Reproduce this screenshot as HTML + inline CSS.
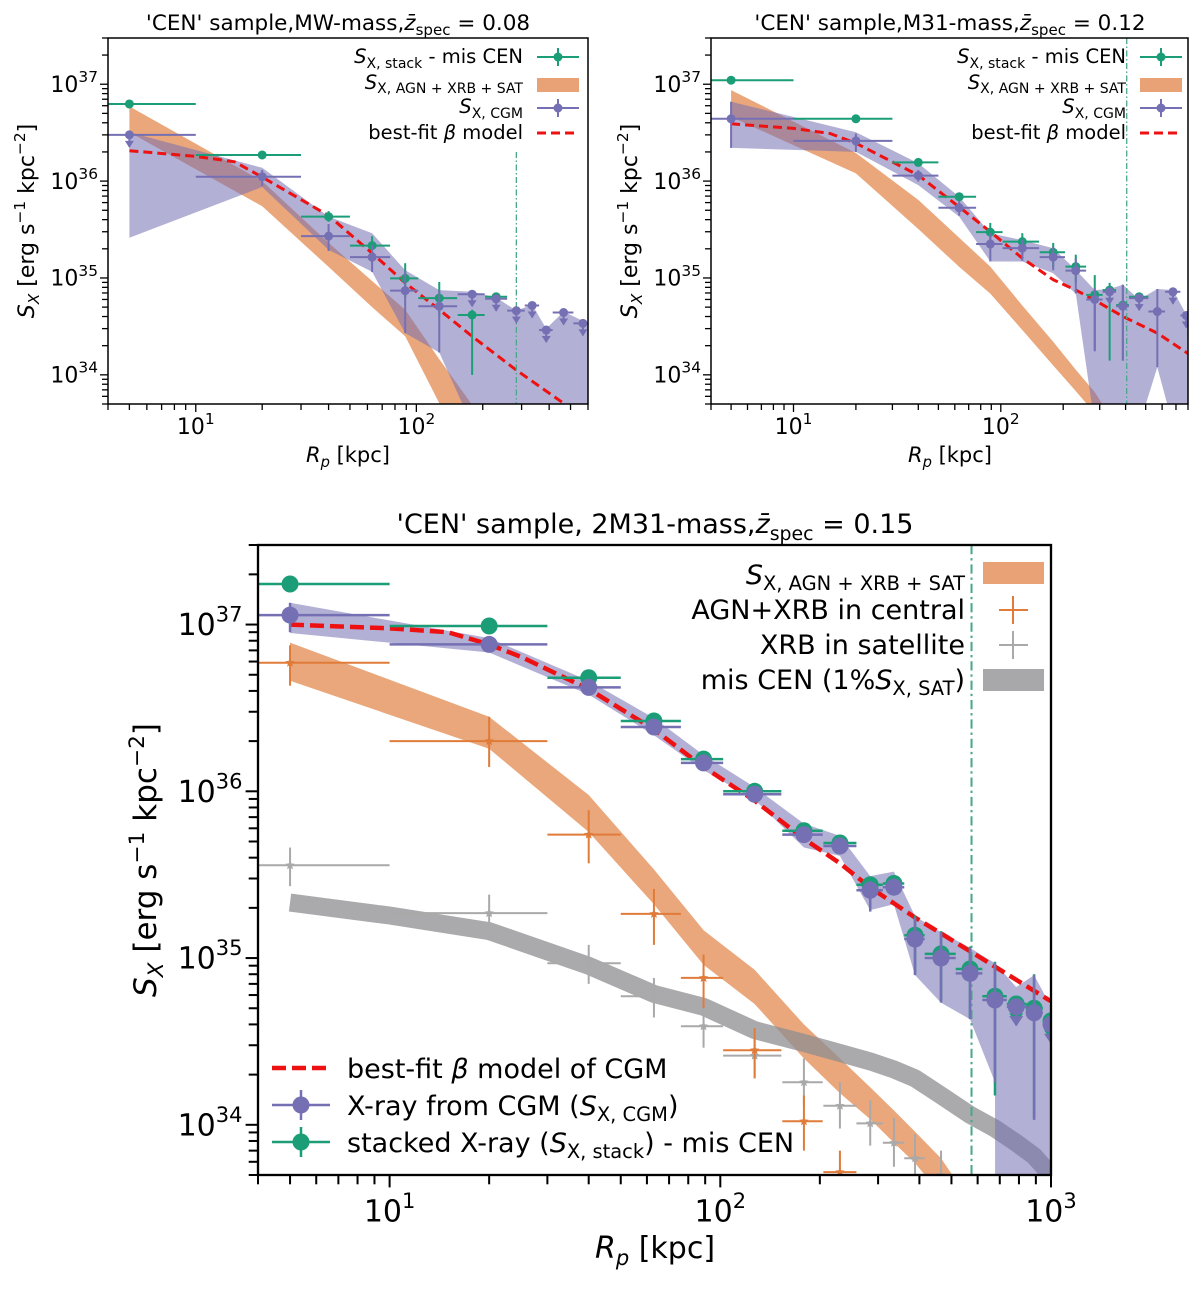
<!DOCTYPE html>
<html><head><meta charset="utf-8">
<style>
html,body{margin:0;padding:0;background:#fff;}
svg{display:block;font-family:"DejaVu Sans","Liberation Sans",sans-serif;}
</style></head>
<body>
<svg id="fig" xmlns="http://www.w3.org/2000/svg" width="1200" height="1296" viewBox="0 0 1200 1296">
<rect x="0" y="0" width="1200" height="1296" fill="#fff"/>
<defs>
<clipPath id="clip-mw"><rect x="108" y="38" width="480" height="366"/></clipPath>
<clipPath id="clip-m31"><rect x="711" y="38" width="477" height="366"/></clipPath>
<clipPath id="clip-m2"><rect x="258" y="545" width="793" height="630"/></clipPath>
</defs>

<!-- titles -->
<text x="338" y="30" font-size="21.5" text-anchor="middle">'CEN' sample,MW-mass,<tspan font-style="italic">z̄</tspan><tspan font-size="70%" dy="5">spec</tspan><tspan dy="-5"> = 0.08</tspan></text>
<text x="950" y="30" font-size="21.5" text-anchor="middle">'CEN' sample,M31-mass,<tspan font-style="italic">z̄</tspan><tspan font-size="70%" dy="5">spec</tspan><tspan dy="-5"> = 0.12</tspan></text>
<text x="655" y="533" font-size="27" text-anchor="middle">'CEN' sample, 2M31-mass,<tspan font-style="italic">z̄</tspan><tspan font-size="70%" dy="7">spec</tspan><tspan dy="-7"> = 0.15</tspan></text>

<!-- axis labels -->
<text x="348" y="462" font-size="21" text-anchor="middle"><tspan font-style="italic">R</tspan><tspan font-size="70%" dy="5" font-style="italic">p</tspan><tspan dy="-5"> [kpc]</tspan></text>
<text x="950" y="462" font-size="21" text-anchor="middle"><tspan font-style="italic">R</tspan><tspan font-size="70%" dy="5" font-style="italic">p</tspan><tspan dy="-5"> [kpc]</tspan></text>
<text x="655" y="1258" font-size="30" text-anchor="middle"><tspan font-style="italic">R</tspan><tspan font-size="70%" dy="7" font-style="italic">p</tspan><tspan dy="-7"> [kpc]</tspan></text>
<text transform="translate(34,221) rotate(-90)" font-size="22" text-anchor="middle"><tspan font-style="italic">S</tspan><tspan font-size="70%" dy="5" font-style="italic">X</tspan><tspan dy="-5"> [erg s</tspan><tspan font-size="70%" dy="-9">−1</tspan><tspan dy="9"> kpc</tspan><tspan font-size="70%" dy="-9">−2</tspan><tspan dy="9">]</tspan></text>
<text transform="translate(637,221) rotate(-90)" font-size="22" text-anchor="middle"><tspan font-style="italic">S</tspan><tspan font-size="70%" dy="5" font-style="italic">X</tspan><tspan dy="-5"> [erg s</tspan><tspan font-size="70%" dy="-9">−1</tspan><tspan dy="9"> kpc</tspan><tspan font-size="70%" dy="-9">−2</tspan><tspan dy="9">]</tspan></text>
<text transform="translate(156,860) rotate(-90)" font-size="31" text-anchor="middle"><tspan font-style="italic">S</tspan><tspan font-size="70%" dy="7" font-style="italic">X</tspan><tspan dy="-7"> [erg s</tspan><tspan font-size="70%" dy="-12">−1</tspan><tspan dy="12"> kpc</tspan><tspan font-size="70%" dy="-12">−2</tspan><tspan dy="12">]</tspan></text>

<g id="plots"></g>

<!-- legend MW -->
<g font-size="19.5">
<text x="523" y="63" text-anchor="end"><tspan font-style="italic">S</tspan><tspan font-size="72%" dy="5">X, stack</tspan><tspan dy="-5"> - mis CEN</tspan></text>
<line x1="537" y1="57" x2="579" y2="57" stroke="#1b9e77" stroke-width="2"/>
<line x1="558" y1="48" x2="558" y2="66" stroke="#1b9e77" stroke-width="2"/>
<circle cx="558" cy="57" r="4.5" fill="#1b9e77"/>
<text x="523" y="89" text-anchor="end"><tspan font-style="italic">S</tspan><tspan font-size="72%" dy="4">X, AGN + XRB + SAT</tspan></text>
<rect x="537" y="78" width="42" height="14" fill="#e9a276"/>
<text x="523" y="113" text-anchor="end"><tspan font-style="italic">S</tspan><tspan font-size="72%" dy="5">X, CGM</tspan></text>
<line x1="537" y1="108" x2="579" y2="108" stroke="#7570b3" stroke-width="2"/>
<line x1="558" y1="99" x2="558" y2="117" stroke="#7570b3" stroke-width="2"/>
<circle cx="558" cy="108" r="4.5" fill="#7570b3"/>
<text x="523" y="139" text-anchor="end">best-fit <tspan font-style="italic">β</tspan> model</text>
<line x1="537" y1="133" x2="579" y2="133" stroke="#ee1111" stroke-width="3" stroke-dasharray="9,5"/>
</g>
<!-- legend M31 -->
<g font-size="19.5">
<text x="1126" y="63" text-anchor="end"><tspan font-style="italic">S</tspan><tspan font-size="72%" dy="5">X, stack</tspan><tspan dy="-5"> - mis CEN</tspan></text>
<line x1="1140" y1="57" x2="1182" y2="57" stroke="#1b9e77" stroke-width="2"/>
<line x1="1161" y1="48" x2="1161" y2="66" stroke="#1b9e77" stroke-width="2"/>
<circle cx="1161" cy="57" r="4.5" fill="#1b9e77"/>
<text x="1126" y="89" text-anchor="end"><tspan font-style="italic">S</tspan><tspan font-size="72%" dy="4">X, AGN + XRB + SAT</tspan></text>
<rect x="1140" y="78" width="42" height="14" fill="#e9a276"/>
<text x="1126" y="113" text-anchor="end"><tspan font-style="italic">S</tspan><tspan font-size="72%" dy="5">X, CGM</tspan></text>
<line x1="1140" y1="108" x2="1182" y2="108" stroke="#7570b3" stroke-width="2"/>
<line x1="1161" y1="99" x2="1161" y2="117" stroke="#7570b3" stroke-width="2"/>
<circle cx="1161" cy="108" r="4.5" fill="#7570b3"/>
<text x="1126" y="139" text-anchor="end">best-fit <tspan font-style="italic">β</tspan> model</text>
<line x1="1140" y1="133" x2="1182" y2="133" stroke="#ee1111" stroke-width="3" stroke-dasharray="9,5"/>
</g>
<!-- legend 2M31 upper right -->
<g font-size="27">
<text x="965" y="584" text-anchor="end"><tspan font-style="italic">S</tspan><tspan font-size="72%" dy="6">X, AGN + XRB + SAT</tspan></text>
<rect x="983" y="562" width="61" height="22" fill="#e9a276"/>
<text x="965" y="619" text-anchor="end">AGN+XRB in central</text>
<line x1="999" y1="610" x2="1028" y2="610" stroke="#e07b39" stroke-width="2"/>
<line x1="1013" y1="596" x2="1013" y2="624" stroke="#e07b39" stroke-width="2"/>
<text x="965" y="654" text-anchor="end">XRB in satellite</text>
<line x1="999" y1="645" x2="1028" y2="645" stroke="#a9a9a9" stroke-width="2"/>
<line x1="1013" y1="631" x2="1013" y2="659" stroke="#a9a9a9" stroke-width="2"/>
<text x="965" y="689" text-anchor="end">mis CEN (1%<tspan font-style="italic">S</tspan><tspan font-size="72%" dy="6">X, SAT</tspan><tspan dy="-6">)</tspan></text>
<rect x="983" y="669" width="61" height="22" fill="#a8a8ab"/>
</g>
<!-- legend 2M31 lower left -->
<g font-size="27">
<line x1="272" y1="1068" x2="330" y2="1068" stroke="#ee1111" stroke-width="4.5" stroke-dasharray="14,6"/>
<text x="347" y="1078">best-fit <tspan font-style="italic">β</tspan> model of CGM</text>
<line x1="272" y1="1105" x2="330" y2="1105" stroke="#7570b3" stroke-width="2.5"/>
<line x1="301" y1="1090" x2="301" y2="1120" stroke="#7570b3" stroke-width="2.5"/>
<circle cx="301" cy="1105" r="8.5" fill="#7570b3"/>
<text x="347" y="1115">X-ray from CGM (<tspan font-style="italic">S</tspan><tspan font-size="72%" dy="6">X, CGM</tspan><tspan dy="-6">)</tspan></text>
<line x1="272" y1="1142" x2="330" y2="1142" stroke="#1b9e77" stroke-width="2.5"/>
<line x1="301" y1="1127" x2="301" y2="1157" stroke="#1b9e77" stroke-width="2.5"/>
<circle cx="301" cy="1142" r="8.5" fill="#1b9e77"/>
<text x="347" y="1152">stacked X-ray (<tspan font-style="italic">S</tspan><tspan font-size="72%" dy="6">X, stack</tspan><tspan dy="-6">) - mis CEN</tspan></text>
</g>
</svg>

<script>
// ---------------- DATA ----------------
const binCenters = [5,20,40,63,89,127,179,230,284,335,388,465,569,677,785,889,1000];
const binLow     = [1,10,30,50,76,102,154,205,258,310,360,415,515,620,735,845,945];
const binHigh    = [10,30,50,76,102,153,204,258,310,360,415,515,620,735,845,945,1060];
const yTickExps  = [34,35,36,37];
const xTickExps  = [1,2,3];

// MW-mass panel
const mwStack   = [6.25e36,1.86e36,4.3e35,2.16e35,9.9e34,6.2e34,4.15e34,6.4e34];
const mwStackLo = [5.8e36,1.75e36,3.8e35,1.7e35,6.3e34,4.0e34,1.0e34,5.9e34];
const mwStackHi = [6.7e36,1.97e36,4.9e35,2.7e35,1.42e35,9.1e34,4.7e34,6.9e34];
const mwCgm     = [3.0e36,1.11e36,2.7e35,1.64e35,7.4e34,5.1e34,6.8e34,6.1e34,4.6e34,5.2e34,2.9e34,4.4e34,3.4e34];
const mwCgmLo   = [3.0e36,8.9e35,1.9e35,1.15e35,2.7e34,1.7e34,6.8e34,6.1e34,4.6e34,5.2e34,2.9e34,4.4e34,3.4e34];
const mwCgmHi   = [3.0e36,1.3e36,3.6e35,2.2e35,1.2e35,7.5e34,6.8e34,6.1e34,4.6e34,5.2e34,2.9e34,4.4e34,3.4e34];
const mwUL      = [1,0,0,0,0,0,1,1,1,1,1,1,1];
const mwBandX   = [5,20,40,63,89,127,179,230,284,335,388,465,569,677];
const mwBandHi  = [3.2e36,1.37e36,4.3e35,2.9e35,1.2e35,7.5e34,7.2e34,6.3e34,4.6e34,5.3e34,3.0e34,4.5e34,3.6e34,2.8e34];
const mwBandLo  = [2.6e35,8.7e35,1.95e35,1.16e35,2.7e34,1.7e34,3e33,3e33,3e33,3e33,3e33,3e33,3e33,3e33];
const mwAgnX    = [5,20,40,63,89,127,179];
const mwAgnHi   = [5.9e36,1.0e36,2.3e35,9.3e34,4.7e34,1.45e34,4.9e33];
const mwAgnLo   = [3.2e36,5.5e35,1.3e35,5.0e34,2.5e34,5.1e33,1.6e33];
const mwModelX  = [5,10,15,20,40,63,89,127,179,284,470,600];
const mwModel   = [2.06e36,1.8e36,1.58e36,1.1e36,4.4e35,1.8e35,8.9e34,4.7e34,2.5e34,1.12e34,5e33,3.6e33];
const mwRvir    = 284;

// M31-mass panel
const m31Stack   = [1.1e37,4.4e36,1.56e36,6.9e35,2.97e35,2.37e35,1.84e35,1.31e35,6.7e34,7.5e34,5.25e34,6.4e34];
const m31StackLo = [1.05e37,4.2e36,1.45e36,6.2e35,2.45e35,1.7e35,1.3e35,8.9e34,1.8e34,1.4e34,1.4e34,5.9e34];
const m31StackHi = [1.15e37,4.6e36,1.7e36,7.6e35,3.7e35,2.9e35,2.3e35,1.74e35,1.07e35,8.9e34,8.5e34,6.9e34];
const m31Cgm     = [4.4e36,2.6e36,1.14e36,5.3e35,2.24e35,2.03e35,1.64e35,1.19e35,6.0e34,7.2e34,5.1e34,6.2e34,4.5e34,7.2e34,4.1e34];
const m31CgmLo   = [2.2e36,2.0e36,9.9e35,4.4e35,1.48e35,1.5e35,1.2e35,6.9e34,1.75e34,7.2e34,1.4e34,6.2e34,1.2e34,7.2e34,4.1e34];
const m31CgmHi   = [6.6e36,3.1e36,1.3e36,6.2e35,2.9e35,2.5e35,2.1e35,1.6e35,7.9e34,7.2e34,8.5e34,6.2e34,7.7e34,7.2e34,4.1e34];
const m31UL      = [0,0,0,0,0,0,0,0,0,1,0,1,0,1,1];
const m31BandX   = [5,20,40,63,89,127,179,230,284,335,388,465,569,677,785,900];
const m31BandHi  = [6.6e36,3.2e36,1.53e36,6.9e35,2.9e35,2.46e35,2.03e35,1.21e35,7.5e34,7.7e34,8.5e34,6.0e34,7.7e34,7.5e34,4.2e34,3.5e34];
const m31BandLo  = [2.2e36,2.0e36,9.1e35,4.3e35,1.48e35,1.48e35,1.12e35,6.9e34,3e33,3e33,3e33,3e33,1.2e34,3e33,3e33,3e33];
const m31AgnX    = [5,20,40,63,89,127,179,230,284,330];
const m31AgnHi   = [8.7e36,1.95e36,6.4e35,2.6e35,1.31e35,5.2e34,2.2e34,1.13e34,6.6e33,4e33];
const m31AgnLo   = [4.6e36,1.2e36,3.2e35,1.3e35,6.9e34,2.9e34,1.25e34,6.8e33,4e33,2.5e33];
const m31ModelX  = [5,10,15,20,40,63,89,127,179,230,284,388,569,800];
const m31Model   = [3.9e36,3.5e36,3.1e36,2.46e36,1.15e36,5.4e35,3.0e35,1.6e35,9.6e34,7.5e34,5.9e34,4.0e34,2.7e34,1.66e34];
const m31Rvir    = 405;

// 2M31-mass panel
const bStack   = [1.75e37,9.8e36,4.8e36,2.64e36,1.56e36,1.0e36,5.8e35,4.9e35,2.75e35,2.8e35,1.37e35,1.06e35,8.6e34,5.9e34,5.3e34,5.0e34,4.2e34];
const bStackLo = [1.65e37,9.3e36,4.5e36,2.45e36,1.45e36,9.3e35,5.3e35,4.4e35,2.0e35,2.5e35,8.0e34,5.5e34,4.4e34,1.5e34,5.3e34,1.1e34,4.2e34];
const bStackHi = [1.85e37,1.03e37,5.1e36,2.8e36,1.67e36,1.07e36,6.3e35,5.4e35,3.05e35,3.1e35,1.8e35,1.45e35,1.17e35,9.5e34,5.3e34,8.0e34,4.2e34];
const bCgm     = [1.14e37,7.6e36,4.2e36,2.43e36,1.48e36,9.6e35,5.5e35,4.7e35,2.55e35,2.66e35,1.30e35,1.0e35,8.1e34,5.6e34,5.1e34,4.7e34,4.0e34];
const bCgmLo   = [9.0e36,7.1e36,3.9e36,2.2e36,1.36e36,8.9e35,5.0e35,4.2e35,1.9e35,2.4e35,7.9e34,5.4e34,4.3e34,1.8e34,5.1e34,1.07e34,4.0e34];
const bCgmHi   = [1.35e37,8.1e36,4.5e36,2.65e36,1.6e36,1.03e36,6.0e35,5.2e35,2.9e35,3.0e35,1.75e35,1.43e35,1.15e35,9.3e34,5.1e34,7.9e34,4.0e34];
const bUL      = [0,0,0,0,0,0,0,0,0,0,0,0,0,0,1,0,1];
const bBandX   = [5,20,40,63,89,127,179,230,284,335,388,465,569,677,678,785,889,1000];
const bBandHi  = [1.35e37,8.3e36,4.6e36,2.75e36,1.65e36,1.06e36,6.4e35,5.4e35,3.1e35,3.3e35,1.78e35,1.43e35,1.15e35,9.3e34,9.3e34,6.7e34,7.9e34,5.1e34];
const bBandLo  = [8.9e36,6.8e36,3.8e36,2.17e36,1.34e36,8.9e35,4.6e35,4.1e35,1.94e35,2.1e35,7.9e34,5.4e34,4.3e34,1.8e34,1e33,1e33,1e33,1e33];
const bAgnX    = [5,20,40,63,89,127,179,230,284,335,388,465,569];
const bAgnHi   = [7.8e36,2.8e36,9.5e35,3.4e35,1.47e35,8.5e34,4.0e34,2.5e34,1.68e34,1.22e34,9.1e33,6.3e33,3.5e33];
const bAgnLo   = [4.6e36,1.8e36,5.7e35,2.1e35,9.1e34,5.3e34,2.5e34,1.55e34,1.08e34,7.8e33,5.9e33,3.8e33,2.2e33];
const bMisX    = [5,10,20,40,63,89,127,179,230,284,335,388,465,569,677,785,889,1000];
const bMis     = [2.15e35,1.8e35,1.45e35,9e34,6.1e34,5.1e34,3.7e34,3.1e34,2.7e34,2.4e34,2.15e34,1.9e34,1.5e34,1.15e34,9.5e33,7.8e33,6.5e33,5.0e33];
const bCen     = [5.9e36,2.0e36,5.5e35,1.84e35,7.6e34,2.8e34,1.05e34,5.2e33];
const bCenLo   = [4.3e36,1.4e36,3.7e35,1.2e35,5.0e34,1.9e34,7e33,4e33];
const bCenHi   = [7.5e36,2.8e36,7.7e35,2.6e35,1.05e35,3.8e34,1.5e34,7e33];
const bSat     = [3.6e35,1.86e35,9.3e34,5.9e34,3.9e34,2.6e34,1.8e34,1.3e34,1.02e34,7.8e33,6.3e33,5.0e33];
const bSatLo   = [2.7e35,1.45e35,7.0e34,4.4e34,2.9e34,1.9e34,1.3e34,9.5e33,7.5e33,5.6e33,4.5e33,3.8e33];
const bSatHi   = [4.6e35,2.4e35,1.2e35,7.6e34,5.1e34,3.5e34,2.5e34,1.8e34,1.4e34,1.1e34,8.8e33,7e33];
const bModelX  = [5,10,15,20,25,40,63,89,127,179,230,284,388,569,1000];
const bModel   = [1.0e37,9.5e36,9.0e36,7.6e36,6.4e36,4.1e36,2.35e36,1.4e36,8.8e35,5.2e35,3.7e35,2.65e35,1.75e35,1.1e35,5.5e34];
const bRvir    = 575;

// ---------------- RENDER ----------------
const NS = 'http://www.w3.org/2000/svg';
const root = document.getElementById('plots');
function mk(tag, parent){ const e = document.createElementNS(NS, tag); parent.appendChild(e); return e; }
function axes(p){
  const lx0 = Math.log10(p.xmin), lx1 = Math.log10(p.xmax), ly0 = Math.log10(p.ymin), ly1 = Math.log10(p.ymax);
  p.X = v => p.x0 + (Math.log10(v) - lx0) / (lx1 - lx0) * (p.x1 - p.x0);
  p.Y = v => p.y1 - (Math.log10(Math.max(v,1e30)) - ly0) / (ly1 - ly0) * (p.y1 - p.y0);
  return p;
}
const P = {
  mw:  axes({key:'mw',  x0:108, x1:588,  y0:38,  y1:404,  xmin:4, xmax:600,  ymin:5e33, ymax:3e37, s:1}),
  m31: axes({key:'m31', x0:711, x1:1188, y0:38,  y1:404,  xmin:4, xmax:800,  ymin:5e33, ymax:3e37, s:1}),
  m2:  axes({key:'m2',  x0:258, x1:1051, y0:545, y1:1175, xmin:4, xmax:1000, ymin:5e33, ymax:3e37, s:1.55})
};

function band(g, p, xs, hi, lo, fill, op, name){
  let pts = [];
  for (let i=0;i<xs.length;i++) pts.push(p.X(xs[i]).toFixed(1)+','+p.Y(hi[i]).toFixed(1));
  for (let i=xs.length-1;i>=0;i--) pts.push(p.X(xs[i]).toFixed(1)+','+p.Y(lo[i]).toFixed(1));
  const e = mk('polygon', g);
  e.setAttribute('points', pts.join(' '));
  e.setAttribute('fill', fill);
  e.setAttribute('fill-opacity', op);
  
  
}
function line(g, p, xs, ys, stroke, w, dash, op, name){
  const e = mk('polyline', g);
  e.setAttribute('points', xs.map((x,i)=>p.X(x).toFixed(1)+','+p.Y(ys[i]).toFixed(1)).join(' '));
  e.setAttribute('fill', 'none');
  e.setAttribute('stroke', stroke);
  e.setAttribute('stroke-width', w);
  e.setAttribute('stroke-linejoin', 'round');
  if (dash) e.setAttribute('stroke-dasharray', dash);
  e.setAttribute('stroke-opacity', op);
  
  
}
function errs(g, p, vals, lo, hi, ul, color, r, lw, star, name){
  for (let i=0;i<vals.length;i++){
    const gx = p.X(binCenters[i]), gy = p.Y(vals[i]);
    const grp = mk('g', g);
    
    
    const h = mk('line', grp);
    h.setAttribute('x1', p.X(binLow[i])); h.setAttribute('x2', p.X(binHigh[i]));
    h.setAttribute('y1', gy); h.setAttribute('y2', gy);
    h.setAttribute('stroke', color); h.setAttribute('stroke-width', lw);
    if (ul && ul[i]) {
      const L = 12*p.s;
      const v = mk('line', grp);
      v.setAttribute('x1', gx); v.setAttribute('x2', gx);
      v.setAttribute('y1', gy); v.setAttribute('y2', gy+L);
      v.setAttribute('stroke', color); v.setAttribute('stroke-width', lw);
      const a = mk('polygon', grp);
      const aw = 4.5*p.s, ah = 6*p.s;
      a.setAttribute('points', (gx-aw)+','+(gy+L-ah)+' '+(gx+aw)+','+(gy+L-ah)+' '+gx+','+(gy+L+1));
      a.setAttribute('fill', color);
    } else {
      const v = mk('line', grp);
      v.setAttribute('x1', gx); v.setAttribute('x2', gx);
      v.setAttribute('y1', p.Y(hi[i])); v.setAttribute('y2', p.Y(lo[i]));
      v.setAttribute('stroke', color); v.setAttribute('stroke-width', lw);
    }
    if (star) {
      const s = mk('polygon', grp);
      let pts=[];
      for (let k=0;k<10;k++){ const a=-Math.PI/2+k*Math.PI/5, rr=(k%2?r*0.45:r); pts.push((gx+rr*Math.cos(a)).toFixed(1)+','+(gy+rr*Math.sin(a)).toFixed(1)); }
      s.setAttribute('points', pts.join(' '));
      s.setAttribute('fill', color);
    } else {
      const c = mk('circle', grp);
      c.setAttribute('cx', gx); c.setAttribute('cy', gy); c.setAttribute('r', r);
      c.setAttribute('fill', color);
    }
  }
}
function vline(g, p, xv, name){
  const e = mk('line', g);
  e.setAttribute('x1', p.X(xv)); e.setAttribute('x2', p.X(xv));
  e.setAttribute('y1', p.key==='mw' ? 152 : p.y0); e.setAttribute('y2', p.y1);
  e.setAttribute('stroke', '#4aa88a'); e.setAttribute('stroke-width', 1.3*p.s);
  e.setAttribute('stroke-dasharray', (6*p.s)+','+(2.5*p.s)+','+(1.5*p.s)+','+(2.5*p.s));
  
  
}
function frame(p, fs, label){
  const g = mk('g', root);
  
  
  const r = mk('rect', g);
  r.setAttribute('x', p.x0); r.setAttribute('y', p.y0);
  r.setAttribute('width', p.x1-p.x0); r.setAttribute('height', p.y1-p.y0);
  r.setAttribute('fill', 'none'); r.setAttribute('stroke', '#000'); r.setAttribute('stroke-width', 1.5*p.s);
  
  
  const maj = 8*p.s, mnr = 6*p.s;
  for (let d=0; d<=3; d++) for (let m=1;m<=9;m++){
    const v = m*Math.pow(10,d);
    if (v < p.xmin-1e-9 || v > p.xmax+1e-9) continue;
    const x = p.X(v);
    const t = mk('line', g);
    t.setAttribute('x1', x); t.setAttribute('x2', x);
    t.setAttribute('y1', p.y1); t.setAttribute('y2', p.y1 + (m===1?maj:mnr));
    t.setAttribute('stroke', '#000'); t.setAttribute('stroke-width', 1.3*p.s);
  }
  xTickExps.forEach(ex => {
    const v = Math.pow(10, ex);
    if (v > p.xmax*1.01) return;
    const tx = mk('text', g);
    tx.setAttribute('x', p.X(v)); tx.setAttribute('y', p.y1 + 30*p.s);
    tx.setAttribute('font-size', fs); tx.setAttribute('text-anchor', 'middle');
    
    
    tx.innerHTML = '10<tspan font-size="70%" dy="-' + (0.45*fs) + '">' + ex + '</tspan>';
  });
  for (let d=33; d<=37; d++) for (let m=1;m<=9;m++){
    const v = m*Math.pow(10,d);
    if (v < p.ymin*0.999 || v > p.ymax*1.001) continue;
    const y = p.Y(v);
    const t = mk('line', g);
    t.setAttribute('x1', p.x0 - (m===1?maj:mnr)); t.setAttribute('x2', p.x0);
    t.setAttribute('y1', y); t.setAttribute('y2', y);
    t.setAttribute('stroke', '#000'); t.setAttribute('stroke-width', 1.3*p.s);
  }
  yTickExps.forEach(ex => {
    const tx = mk('text', g);
    tx.setAttribute('x', p.x0 - 10*p.s); tx.setAttribute('y', p.Y(Math.pow(10,ex)) + 0.35*fs);
    tx.setAttribute('font-size', fs); tx.setAttribute('text-anchor', 'end');
    
    
    tx.innerHTML = '10<tspan font-size="70%" dy="-' + (0.45*fs) + '">' + ex + '</tspan>';
  });
}
function panelGroup(p, name){
  const g = mk('g', root);
  g.setAttribute('clip-path', 'url(#clip-' + p.key + ')');
  
  
  return g;
}

(function(){
  const p = P.mw, g = panelGroup(p, 'plot-area-mw');
  band(g, p, mwAgnX, mwAgnHi, mwAgnLo, '#e38a4f', 0.75, 'agn-xrb-sat-band');
  band(g, p, mwBandX, mwBandHi, mwBandLo, '#7570b3', 0.55, 'cgm-band');
  line(g, p, mwModelX, mwModel, '#ee1111', 3, '9,5', 1, 'beta-model-line');
  vline(g, p, mwRvir, 'r200-line');
  errs(g, p, mwStack, mwStackLo, mwStackHi, null, '#1b9e77', 4.5, 2, false, 'stack-point');
  errs(g, p, mwCgm, mwCgmLo, mwCgmHi, mwUL, '#7570b3', 4.5, 2, false, 'cgm-point');
  frame(p, 22, 'mw');
})();
(function(){
  const p = P.m31, g = panelGroup(p, 'plot-area-m31');
  band(g, p, m31AgnX, m31AgnHi, m31AgnLo, '#e38a4f', 0.75, 'agn-xrb-sat-band');
  band(g, p, m31BandX, m31BandHi, m31BandLo, '#7570b3', 0.55, 'cgm-band');
  line(g, p, m31ModelX, m31Model, '#ee1111', 3, '9,5', 1, 'beta-model-line');
  vline(g, p, m31Rvir, 'r200-line');
  errs(g, p, m31Stack, m31StackLo, m31StackHi, null, '#1b9e77', 4.5, 2, false, 'stack-point');
  errs(g, p, m31Cgm, m31CgmLo, m31CgmHi, m31UL, '#7570b3', 4.5, 2, false, 'cgm-point');
  frame(p, 22, 'm31');
})();
(function(){
  const p = P.m2, g = panelGroup(p, 'plot-area-2m31');
  band(g, p, bAgnX, bAgnHi, bAgnLo, '#e38a4f', 0.75, 'agn-xrb-sat-band');
  line(g, p, bMisX, bMis, '#8e8e92', 18, null, 0.75, 'mis-cen-band');
  band(g, p, bBandX, bBandHi, bBandLo, '#7570b3', 0.55, 'cgm-band');
  vline(g, p, bRvir, 'r200-line');
  errs(g, p, bSat, bSatLo, bSatHi, null, '#a9a9a9', 5, 2, true, 'xrb-satellite-point');
  errs(g, p, bCen, bCenLo, bCenHi, null, '#e07b39', 5, 2, true, 'agn-central-point');
  line(g, p, bModelX, bModel, '#ee1111', 4.5, '14,6', 1, 'beta-model-line');
  errs(g, p, bStack, bStackLo, bStackHi, bUL, '#1b9e77', 8.5, 2.5, false, 'stack-point');
  errs(g, p, bCgm, bCgmLo, bCgmHi, bUL, '#7570b3', 8.5, 2.5, false, 'cgm-point');
  frame(p, 30, '2m31');
})();
</script>
</body></html>
